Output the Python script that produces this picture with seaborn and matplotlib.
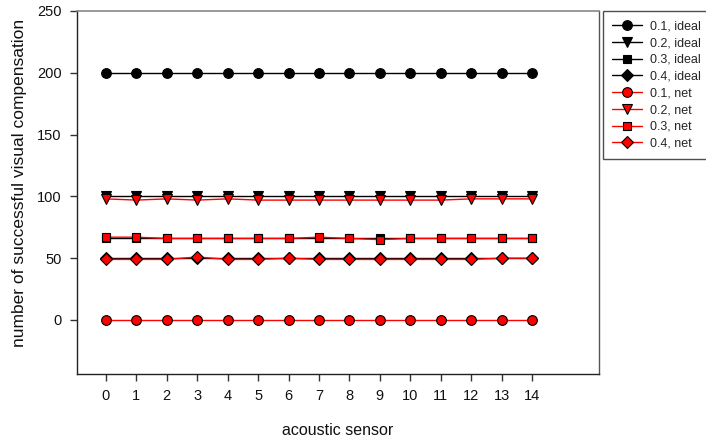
import numpy as np
import pandas as pd
import matplotlib
matplotlib.use("Agg")
import matplotlib.pyplot as plt
import seaborn as sns

# acoustic sensor index
sensors = list(range(15))

# ideal number of successful visual compensations per threshold
ideal_01 = [200] * 15
ideal_02 = [100] * 15
ideal_03 = [66.67] * 15
ideal_04 = [50] * 15

# measured (network) counts per threshold
net_01 = [0, 0, 0, 0, 0, 0, 0, 0, 0, 0, 0, 0, 0, 0, 0]
net_02 = [98, 97, 98, 97, 98, 97, 97, 97, 97, 97, 97, 97, 98, 98, 98]
net_03 = [67, 67, 66, 66, 66, 66, 66, 67, 66, 65, 66, 66, 66, 66, 66]
net_04 = [49, 49, 49, 51, 49, 49, 50, 49, 49, 49, 49, 49, 49, 50, 50]

series_labels = ["0.1, ideal", "0.2, ideal", "0.3, ideal", "0.4, ideal",
                 "0.1, net", "0.2, net", "0.3, net", "0.4, net"]
series_values = [ideal_01, ideal_02, ideal_03, ideal_04,
                 net_01, net_02, net_03, net_04]
markers = ["o", "v", "s", "D", "o", "v", "s", "D"]
marker_sizes = [7.0, 7.0, 6.3, 6.3, 7.0, 7.0, 6.3, 6.3]

y_ticks = [0, 50, 100, 150, 200, 250]

sns.set_theme(style="white")
plt.rcParams["font.family"] = ["Liberation Sans", "DejaVu Sans"]

fig = plt.figure(figsize=(7.06, 4.41), dpi=100)
ax = fig.add_axes([77 / 706, 1 - 374 / 441, (599 - 77) / 706, (374 - 11) / 441])

for label, vals, mk, ms in zip(series_labels, series_values, markers, marker_sizes):
    is_net = label.endswith("net")
    color = "#ff0000" if is_net else "black"
    df = pd.DataFrame({"sensor": sensors, "count": vals})
    sns.lineplot(data=df, x="sensor", y="count", ax=ax, color=color,
                 linewidth=1.0, marker=mk, markersize=ms,
                 markerfacecolor=color, markeredgecolor="black",
                 markeredgewidth=0.8, label=label)

handles, labels = ax.get_legend_handles_labels()
if ax.get_legend() is not None:
    ax.get_legend().remove()

ax.set_xlim(-0.95, 16.2)
ax.set_ylim(-43.7, 250)
ax.set_xticks(sensors)
ax.set_xticklabels([str(s) for s in sensors])
ax.set_yticks(y_ticks)
ax.set_yticklabels([str(t) for t in y_ticks])

ax.tick_params(axis="both", which="major", direction="out", length=5,
               width=1, color="#333333", labelsize=10.5, labelcolor="#111111",
               pad=6, left=True, bottom=True)

for side in ["left", "bottom"]:
    ax.spines[side].set_color("#222222")
    ax.spines[side].set_linewidth(1.0)
ax.spines["top"].set_color("#888888")
ax.spines["top"].set_linewidth(1.2)
ax.spines["right"].set_color("#555555")
ax.spines["right"].set_linewidth(1.0)

ax.set_xlabel("acoustic sensor", fontsize=11.5, labelpad=14, color="#111111")
ax.set_ylabel("number of successful visual compensation", fontsize=12.5,
              color="#111111")
ax.yaxis.set_label_coords(-0.096, 0.525)

leg = fig.legend(handles, labels, loc="upper left",
                 bbox_to_anchor=(603 / 706, 1 - 11 / 441),
                 frameon=True, fancybox=False, fontsize=9,
                 handlelength=2.4, handletextpad=0.6, labelspacing=0.38,
                 borderpad=0.75, borderaxespad=0)
leg.get_frame().set_edgecolor("#222222")
leg.get_frame().set_linewidth(1.0)

fig.savefig("out.png", dpi=100)
